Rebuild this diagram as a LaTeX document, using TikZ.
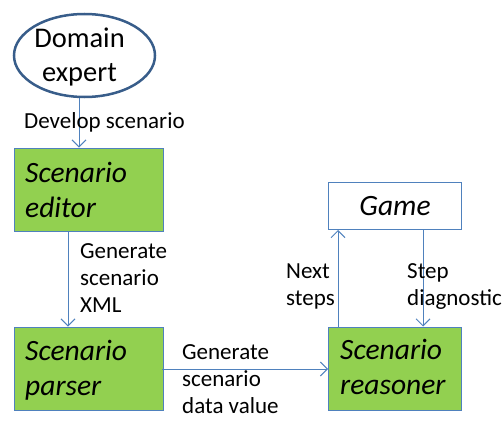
\documentclass[tikz,border=0pt]{standalone}
\usepackage{fontspec}
\setmainfont{Carlito}
\usetikzlibrary{shapes.geometric,arrows.meta}
\definecolor{boxblue}{HTML}{4F81BD}
\definecolor{ellblue}{HTML}{385D8A}
\definecolor{boxgreen}{HTML}{92D050}
\tikzset{
  greenbox/.style={draw=boxblue, fill=boxgreen, line width=1pt, minimum width=149pt, minimum height=83pt, inner sep=0pt},
  boxtext/.style={font=\fontsize{29.5}{35}\selectfont\itshape, align=left, anchor=base west, inner sep=0pt},
  conn/.style={draw=boxblue, line width=1pt, -{Straight Barb[length=7pt,width=14pt,line width=1pt]}},
  lbl/.style={font=\fontsize{23}{27}\selectfont, align=left, inner sep=0pt, anchor=base west},
}
\begin{document}
\begin{tikzpicture}[x=1pt,y=-1pt]
\useasboundingbox (0,0) rectangle (502,420);
% Domain expert
\node[ellipse, draw=ellblue, line width=2.5pt, minimum width=141pt, minimum height=83pt, inner sep=0pt] (expert) at (84.5,55.5) {};
\node[font=\fontsize{28.5}{34}\selectfont, align=center, inner sep=0pt, anchor=base] (experttxt) at (79.5,81) {Domain\\expert};
% boxes
\node[greenbox, anchor=north west] (editor) at (13.5,147.5) {};
\node[boxtext] (editortxt) at ([xshift=11.5pt,yshift=-69.5pt]editor.north west) {Scenario\\editor};
\node[greenbox, anchor=north west] (parser) at (13.5,326.5) {};
\node[boxtext] (parsertxt) at ([xshift=11.5pt,yshift=-68.5pt]parser.north west) {Scenario\\parser};
\node[greenbox, anchor=north west, minimum width=133pt] (reasoner) at (328,326.5) {};
\node[boxtext] (reasonertxt) at ([xshift=12pt,yshift=-68pt]reasoner.north west) {Scenario\\reasoner};
\node[draw=boxblue, line width=1pt, fill=white, anchor=north west, minimum width=133pt, minimum height=47pt, font=\fontsize{29.5}{35}\selectfont\itshape] (game) at (328,182) {Game};
% connectors
\coordinate (e1) at (79,98);
\draw[conn] (e1) -- (e1 |- editor.north);
\coordinate (a1) at (68,231);
\draw[conn] (a1) -- (a1 |- parser.north);
\coordinate (a2) at (162,369);
\draw[conn] (a2) -- (a2 -| reasoner.west);
\coordinate (a3) at (338,326.5);
\draw[conn] (a3) -- (a3 |- game.south);
\coordinate (a4) at (423,229);
\draw[conn] (a4) -- (a4 |- reasoner.north);
% labels
\node[lbl] (l1) at (24,128) {Develop scenario};
\node[lbl] (l2) at (80,312) {Generate\\scenario\\XML};
\node[lbl] (l3) at (182,413) {Generate\\scenario\\data value};
\node[lbl] (l4) at (286,305) {Next\\steps};
\node[lbl] (l5) at (407,305) {Step\\diagnostic};
\end{tikzpicture}
\end{document}
